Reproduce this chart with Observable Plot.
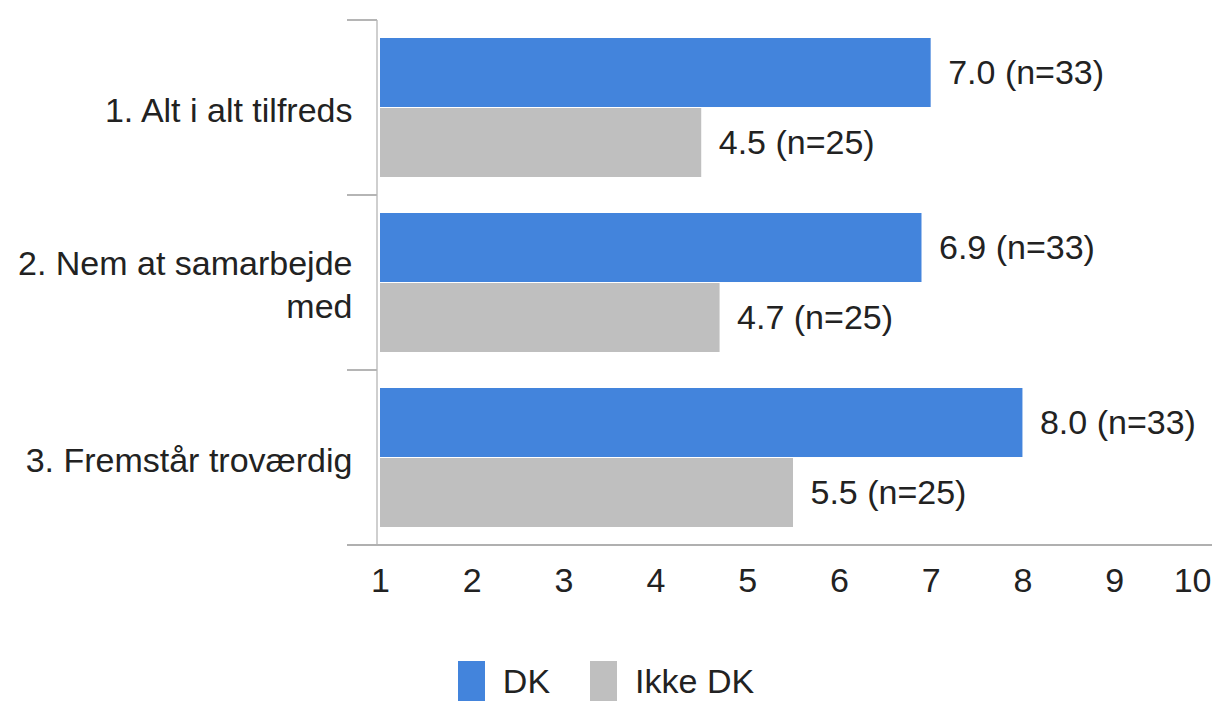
<!DOCTYPE html>
<html>
<head>
<meta charset="utf-8">
<script src="https://cdn.jsdelivr.net/npm/d3@7"></script>
<script src="https://cdn.jsdelivr.net/npm/@observablehq/plot@0.6"></script>
<style>
  html, body { margin: 0; padding: 0; background: #fff; }
  body { width: 1212px; height: 704px; overflow: hidden; font-family: "Liberation Sans", Arial, sans-serif; }
  #legend { display: flex; justify-content: center; align-items: center; gap: 0; margin-top: 21px; font-size: 34px; color: #222; }
  .item { display: flex; align-items: center; margin: 0 20px; }
  .sw { width: 27px; height: 40px; margin-right: 18px; }
</style>
</head>
<body>
<div id="chart"></div>
<div id="legend"></div>
<script>
const categories = ["1. Alt i alt tilfreds", "2. Nem at samarbejde\nmed", "3. Fremstår troværdig"];
const series = ["DK", "Ikke DK"];
const dkValues = [7.0, 6.9, 8.0];
const dkN = [33, 33, 33];
const ikkeValues = [4.5, 4.7, 5.5];
const ikkeN = [25, 25, 25];
const xTicks = [1, 2, 3, 4, 5, 6, 7, 8, 9, 10];
const colors = ["#4384dc", "#bfbfbf"];

const data = [];
categories.forEach((c, i) => {
  data.push({cat: c, series: series[0], value: dkValues[i], n: dkN[i]});
  data.push({cat: c, series: series[1], value: ikkeValues[i], n: ikkeN[i]});
});

const W = 1212, H = 640;
const textColor = "#222";

const plot = Plot.plot({
  width: W,
  height: H,
  marginLeft: 380,
  marginRight: 6,
  marginTop: 20,
  marginBottom: H - 545,
  style: {fontFamily: "'Liberation Sans', Arial, sans-serif", color: textColor, background: "#fff"},
  x: {domain: [1, 10], ticks: xTicks},
  y: {domain: series, paddingInner: 0.021, paddingOuter: 0.25, axis: null},
  fy: {domain: categories, padding: 0},
  color: {domain: series, range: colors},
  marks: [
    Plot.barX(data, {fy: "cat", y: "series", x1: 1, x2: "value", fill: "series"}),
    Plot.text(data, {fy: "cat", y: "series", x: "value", text: d => `${d.value.toFixed(1)} (n=${d.n})`,
      textAnchor: "start", dx: 17, fontSize: 34, fill: textColor}),
    Plot.axisFy({anchor: "left", tickSize: 0, tickPadding: 28, fontSize: 34, lineHeight: 1.27, label: null, fill: textColor}),
    Plot.axisX(xTicks.slice(0, -1), {anchor: "bottom", facetAnchor: "bottom", tickSize: 0, tickPadding: 22, fontSize: 34, label: null, fill: textColor}),
    Plot.axisX(xTicks.slice(-1), {anchor: "bottom", facetAnchor: "bottom", tickSize: 0, tickPadding: 22, fontSize: 34, label: null, textAnchor: "end", dx: 5, fill: textColor})
  ]
});

document.getElementById("chart").appendChild(plot);

// axis decoration lines derived from the scales
const svg = d3.select(plot);
const fy = plot.scale("fy");
const xs = plot.scale("x");
const x0 = xs.apply(1) - 3;
const tops = categories.map(c => fy.apply(c));
const bottom = fy.apply(categories[categories.length - 1]) + fy.bandwidth;
const g = svg.append("g").attr("stroke-width", 2);
g.append("line").attr("x1", x0).attr("x2", x0).attr("y1", tops[0]).attr("y2", bottom).attr("stroke", "#cfcfcf");
tops.forEach(t => {
  g.append("line").attr("x1", x0 - 30).attr("x2", x0).attr("y1", t).attr("y2", t).attr("stroke", "#b5b5b5");
});
g.append("line").attr("x1", x0 - 30).attr("x2", W).attr("y1", bottom).attr("y2", bottom).attr("stroke", "#b0b0b0");

// legend
const legend = d3.select("#legend");
series.forEach((s, i) => {
  const it = legend.append("div").attr("class", "item");
  it.append("div").attr("class", "sw").style("background", colors[i]);
  it.append("span").text(s);
});
</script>
</body>
</html>
